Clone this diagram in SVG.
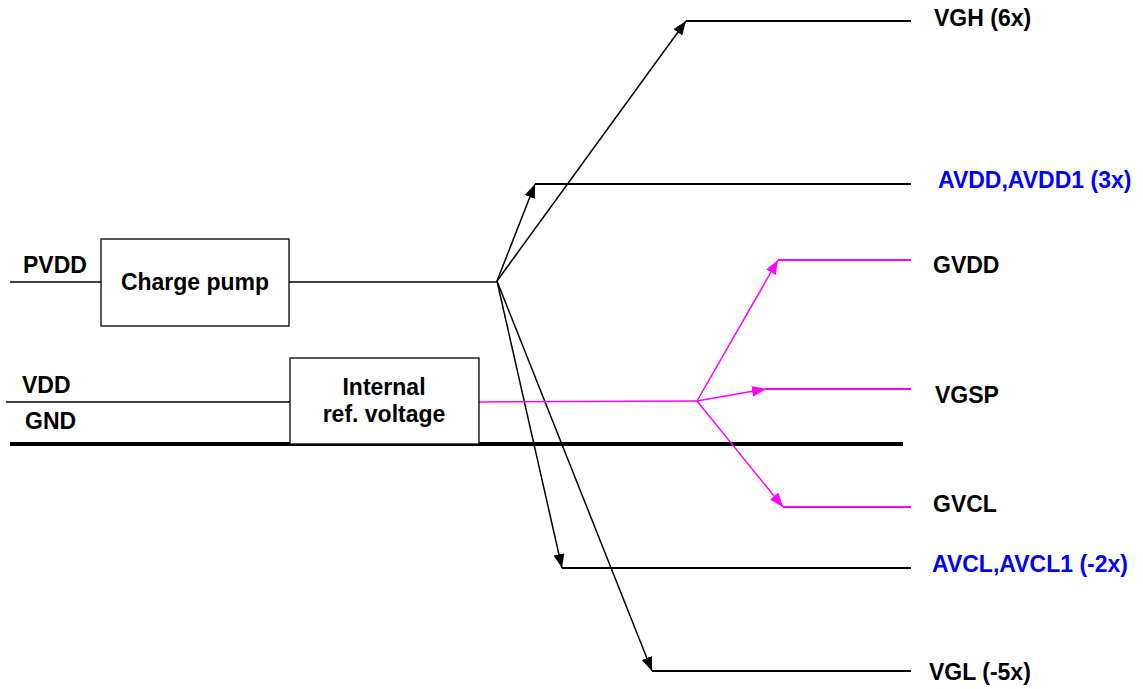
<svg xmlns="http://www.w3.org/2000/svg" width="1143" height="689" viewBox="0 0 1143 689">
<style>
text{font-family:"Liberation Sans",Arial,sans-serif;font-weight:bold;font-size:23px;fill:#000}
.blue{fill:#0000FF}
.box{fill:#fff;stroke:#000;stroke-width:1.3}
.w{fill:none;stroke:#000;stroke-width:1.5}
.h{fill:none;stroke:#000;stroke-width:2}
.m{fill:none;stroke:#FF00FF;stroke-width:1.5}
.mh{fill:none;stroke:#FF00FF;stroke-width:2}
.arr{marker-end:url(#ak)}
.marr{marker-end:url(#am)}
</style>
<defs>
<marker id="ak" markerUnits="userSpaceOnUse" markerWidth="16" markerHeight="12" refX="14" refY="5.5" orient="auto"><path d="M0,0 L14,5.5 L0,11 z" fill="#000"/></marker>
<marker id="am" markerUnits="userSpaceOnUse" markerWidth="16" markerHeight="12" refX="14" refY="5.5" orient="auto"><path d="M0,0 L14,5.5 L0,11 z" fill="#FF00FF"/></marker>
</defs>
<g id="connectors">
<line class="w" x1="10" y1="282" x2="101" y2="282"/>
<line class="w" x1="289" y1="282" x2="497" y2="282"/>
<line class="w" x1="6" y1="402" x2="290" y2="402"/>
<line x1="10" y1="444" x2="903" y2="444" stroke="#000" stroke-width="4"/>
<line class="w arr" x1="497" y1="281" x2="686" y2="21"/>
<line class="w arr" x1="497" y1="281" x2="535" y2="184"/>
<line class="w arr" x1="497" y1="281" x2="562" y2="568"/>
<line class="w arr" x1="497" y1="281" x2="652" y2="671"/>
<line class="h" x1="686" y1="21" x2="911" y2="21"/>
<line class="h" x1="535" y1="184" x2="911" y2="184"/>
<line class="h" x1="562" y1="568" x2="911" y2="568"/>
<line class="h" x1="652" y1="671" x2="911" y2="671"/>
<line class="m" x1="479" y1="402" x2="697" y2="401"/>
<line class="m marr" x1="697" y1="401" x2="778" y2="260"/>
<line class="m marr" x1="697" y1="401" x2="766" y2="389"/>
<line class="m marr" x1="697" y1="401" x2="783" y2="507"/>
<line class="mh" x1="778" y1="260" x2="911" y2="260"/>
<line class="mh" x1="766" y1="389" x2="911" y2="389"/>
<line class="mh" x1="783" y1="507" x2="911" y2="507"/>
</g>
<g id="charge-pump">
<rect class="box" x="101" y="239" width="188" height="87"/>
<text x="195" y="290" text-anchor="middle">Charge pump</text>
</g>
<g id="internal-ref">
<rect class="box" x="290" y="358" width="189" height="86"/>
<text x="384" y="395" text-anchor="middle">Internal</text>
<text x="384" y="422" text-anchor="middle">ref. voltage</text>
</g>
<g id="inputs">
<text x="23" y="273">PVDD</text>
<text x="22" y="393">VDD</text>
<text x="25" y="429">GND</text>
</g>
<g id="outputs">
<text x="934" y="26">VGH (6x)</text>
<text class="blue" x="938" y="188">AVDD,AVDD1 (3x)</text>
<text x="933" y="273">GVDD</text>
<text x="935" y="403">VGSP</text>
<text x="933" y="512">GVCL</text>
<text class="blue" x="932" y="572">AVCL,AVCL1 (-2x)</text>
<text x="929" y="680">VGL (-5x)</text>
</g>
</svg>
